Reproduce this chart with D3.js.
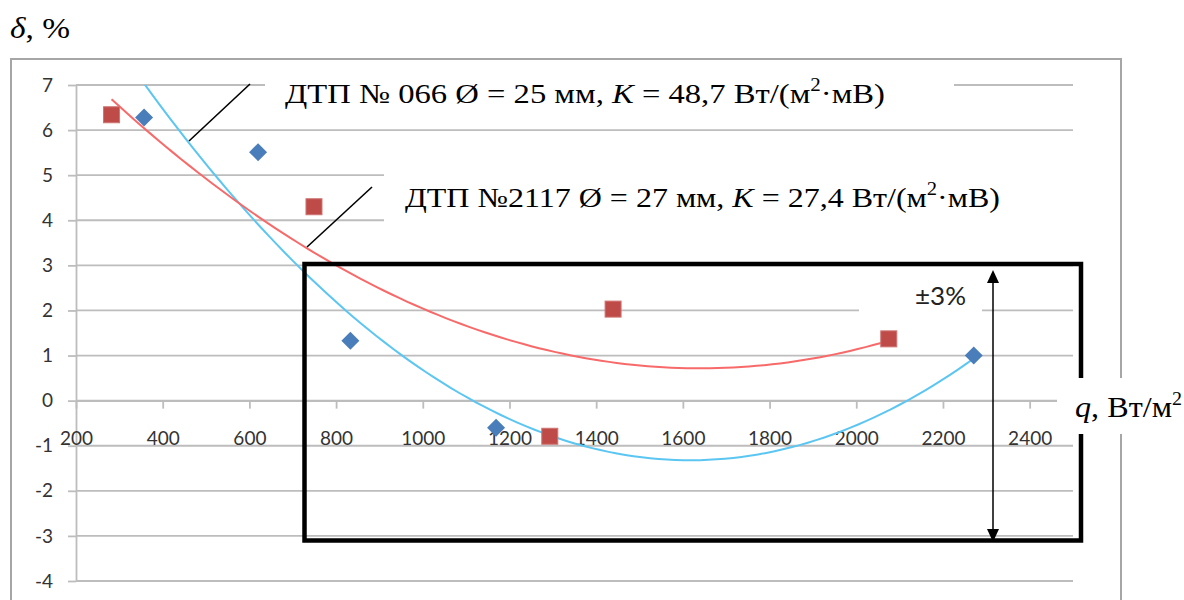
<!DOCTYPE html>
<html>
<head>
<meta charset="utf-8">
<script src="https://cdn.jsdelivr.net/npm/d3@7"></script>
<style>
  body { margin: 0; background: #fff; }
  svg { display: block; }
  .tick text { font-family: Lato, sans-serif; font-size: 19px; fill: #333; }
  .serif { font-family: "Liberation Serif", "Times New Roman", serif; fill: #000; }
</style>
</head>
<body>
<div id="chart"></div>
<script>
// ДТП № 066 (blue diamonds)
const q066 = [357, 620, 833, 1169, 2271];
const d066 = [6.28, 5.51, 1.33, -0.60, 1.00];
// ДТП №2117 (red squares)
const q2117 = [282, 749, 1293, 1439, 2075];
const d2117 = [6.34, 4.30, -0.79, 2.03, 1.37];

const xTickValues = [200, 400, 600, 800, 1000, 1200, 1400, 1600, 1800, 2000, 2200, 2400];
const yTickValues = [-4, -3, -2, -1, 0, 1, 2, 3, 4, 5, 6, 7];

const width = 1184, height = 600;
const plotLeft = 76, plotRight = 1073, plotTop = 85, plotBottom = 581;

const x = d3.scaleLinear().domain([200, 2500]).range([plotLeft, plotRight]);
const y = d3.scaleLinear().domain([-4, 7]).range([plotBottom, plotTop]);

// least squares parabola, same as the spreadsheet's polynomial trendline
const quadFit = (xs, ys) => {
    const s = k => d3.sum(xs, v => Math.pow(v / 1000, k));
    const t = k => d3.sum(xs, (v, i) => Math.pow(v / 1000, k) * ys[i]);
    const m = [[s(0), s(1), s(2), t(0)], [s(1), s(2), s(3), t(1)], [s(2), s(3), s(4), t(2)]];
    for (let i = 0; i < 3; i++) {
        for (let j = i + 1; j < 3; j++) {
            const f = m[j][i] / m[i][i];
            for (let k = i; k < 4; k++) m[j][k] -= f * m[i][k];
        }
    }
    const c = [0, 0, 0];
    for (let i = 2; i >= 0; i--) {
        let v = m[i][3];
        for (let k = i + 1; k < 3; k++) v -= m[i][k] * c[k];
        c[i] = v / m[i][i];
    }
    return q => c[0] + c[1] * q / 1000 + c[2] * (q / 1000) * (q / 1000);
}

const trend = (xs, ys) => {
    const f = quadFit(xs, ys);
    const [lo, hi] = d3.extent(xs);
    return d3.range(0, 101).map(i => {
        const q = lo + (hi - lo) * i / 100;
        return [q, f(q)];
    });
}

const svg = d3.select("#chart").append("svg")
    .attr("width", width)
    .attr("height", height);

svg.append("defs").append("clipPath").attr("id", "plot")
    .append("rect").attr("x", plotLeft).attr("y", plotTop)
    .attr("width", plotRight - plotLeft).attr("height", plotBottom - plotTop);

// chart area frame
svg.append("rect")
    .attr("x", 11).attr("y", 59).attr("width", 1110).attr("height", 580)
    .attr("fill", "none").attr("stroke", "#a6a6a6").attr("stroke-width", 2);

/**********
* Grid & axes
**********/
svg.append("g")
    .selectAll("line")
    .data(yTickValues)
    .join("line")
    .attr("x1", plotLeft).attr("x2", plotRight)
    .attr("y1", d => y(d)).attr("y2", d => y(d))
    .attr("stroke", "#bdbdbd").attr("stroke-width", 1.8);

const yAxis = svg.append("g")
    .attr("transform", `translate(${plotLeft},0)`)
    .call(d3.axisLeft(y).tickValues(yTickValues).tickSize(8).tickSizeOuter(0).tickPadding(15).tickFormat(d => String(d)));

const xAxis = svg.append("g")
    .attr("transform", `translate(0,${y(0)})`)
    .call(d3.axisBottom(x).tickValues(xTickValues).tickSize(8).tickSizeOuter(0).tickPadding(23).tickFormat(d => String(d)));

[yAxis, xAxis].forEach(a => {
    a.select(".domain").attr("stroke", "#bdbdbd").attr("stroke-width", 1.8);
    a.selectAll(".tick line").attr("stroke", "#bdbdbd").attr("stroke-width", 1.8);
});
xAxis.selectAll(".tick text").attr("dy", "0.71em");

/**********
* White label boxes
**********/
const boxes = [[265, 66, 689, 54], [384, 160, 720, 75], [859, 283, 123, 38]];
svg.append("g")
    .selectAll("rect")
    .data(boxes)
    .join("rect")
    .attr("x", d => d[0]).attr("y", d => d[1]).attr("width", d => d[2]).attr("height", d => d[3])
    .attr("fill", "#fff");

/**********
* Trendlines & markers
**********/
const line = d3.line().x(d => x(d[0])).y(d => y(d[1]));
const plot = svg.append("g").attr("clip-path", "url(#plot)");
plot.append("path")
    .datum(trend(q066, d066))
    .attr("d", line).attr("fill", "none").attr("stroke", "#5cc6f2").attr("stroke-width", 2);
plot.append("path")
    .datum(trend(q2117, d2117))
    .attr("d", line).attr("fill", "none").attr("stroke", "#f86a6a").attr("stroke-width", 2);

svg.append("g")
    .selectAll("path")
    .data(q066.map((q, i) => [q, d066[i]]))
    .join("path")
    .attr("d", d => `M${x(d[0])},${y(d[1]) - 9}l9,9l-9,9l-9,-9z`)
    .attr("fill", "#4a7ebb");

svg.append("g")
    .selectAll("rect")
    .data(q2117.map((q, i) => [q, d2117[i]]))
    .join("rect")
    .attr("x", d => x(d[0]) - 8).attr("y", d => y(d[1]) - 8)
    .attr("width", 16).attr("height", 16)
    .attr("fill", "#be4b48").attr("stroke", "#cf7472").attr("stroke-width", 1);

/**********
* Annotations
**********/
const leaders = [[250, 84, 189, 141], [372, 187, 307, 247]];
svg.append("g")
    .selectAll("line")
    .data(leaders)
    .join("line")
    .attr("x1", d => d[0]).attr("y1", d => d[1]).attr("x2", d => d[2]).attr("y2", d => d[3])
    .attr("stroke", "#000").attr("stroke-width", 1.6);

const labels = [
    { x: 285, y: 103, len: 600, pre: "ДТП № 066 Ø = 25 мм, ", val: " = 48,7 Вт/(м" },
    { x: 405, y: 207, len: 595, pre: "ДТП №2117 Ø = 27 мм, ", val: " = 27,4 Вт/(м" }
];
labels.forEach(l => {
    const t = svg.append("text").attr("class", "serif")
        .attr("x", l.x).attr("y", l.y).style("font-size", "28px")
        .attr("textLength", l.len).attr("lengthAdjust", "spacingAndGlyphs");
    t.append("tspan").text(l.pre);
    t.append("tspan").style("font-style", "italic").text("K");
    t.append("tspan").text(l.val);
    t.append("tspan").attr("dy", -12).style("font-size", "18px").text("2");
    t.append("tspan").attr("dy", 12).text("·мВ)");
});

const yLabel = svg.append("text").attr("class", "serif").attr("x", 10).attr("y", 38)
    .style("font-size", "30px").attr("textLength", 60).attr("lengthAdjust", "spacingAndGlyphs");
yLabel.append("tspan").style("font-style", "italic").text("δ");
yLabel.append("tspan").text(", %");

// ±3% band
svg.append("rect")
    .attr("x", 304.5).attr("y", 264).attr("width", 776.5).attr("height", 276.5)
    .attr("fill", "none").attr("stroke", "#000").attr("stroke-width", 4.5);

svg.append("line")
    .attr("x1", 993).attr("x2", 993).attr("y1", 280).attr("y2", 532)
    .attr("stroke", "#000").attr("stroke-width", 1.5);
svg.append("path").attr("d", "M993,270l-6,13h12z").attr("fill", "#000");
svg.append("path").attr("d", "M993,542l-6,-13h12z").attr("fill", "#000");

svg.append("text")
    .attr("x", 915).attr("y", 305)
    .style("font-family", "Lato, sans-serif").style("font-size", "25px").attr("fill", "#222")
    .attr("textLength", 51).attr("lengthAdjust", "spacingAndGlyphs")
    .text("±3%");

svg.append("rect").attr("x", 1057).attr("y", 378).attr("width", 127).attr("height", 56).attr("fill", "#fff");
const xLabel = svg.append("text").attr("class", "serif").attr("x", 1075).attr("y", 417)
    .style("font-size", "29px").attr("textLength", 107).attr("lengthAdjust", "spacingAndGlyphs");
xLabel.append("tspan").style("font-style", "italic").text("q");
xLabel.append("tspan").text(", Вт/м");
xLabel.append("tspan").attr("dy", -12).style("font-size", "18px").text("2");
</script>
</body>
</html>
